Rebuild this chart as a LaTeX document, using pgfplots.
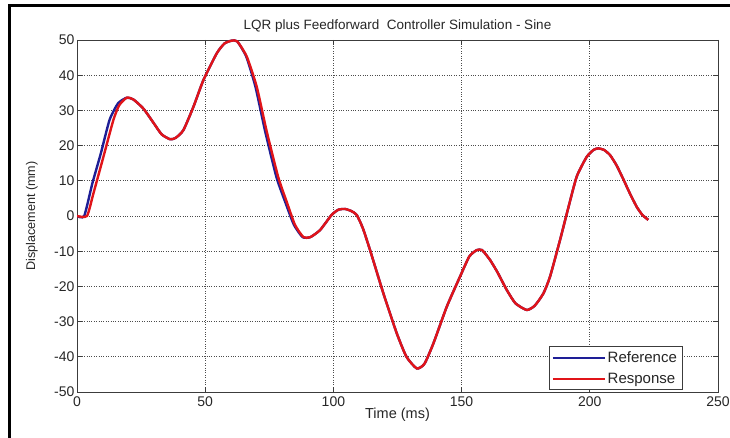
\documentclass[border=0pt]{standalone}
\usepackage{pgfplots}
\pgfplotsset{compat=1.18}
\usepackage{fontspec}
\setmainfont{Liberation Sans}
\definecolor{refblue}{RGB}{30,30,150}
\definecolor{resred}{RGB}{225,20,25}
\definecolor{axgray}{RGB}{60,60,60}
\begin{document}
\begin{tikzpicture}[x=1pt,y=1pt]
\path[use as bounding box] (0,0) rectangle (730,438);
\draw[black,line width=3pt] (9.5,0) -- (9.5,432) -- (730,432);
\begin{axis}[
  at={(77pt,46pt)}, anchor=south west,
  scale only axis, width=641pt, height=352pt,
  xmin=0, xmax=250, ymin=-50, ymax=50,
  xtick={0,50,100,150,200,250},
  ytick={-50,-40,-30,-20,-10,0,10,20,30,40,50},
  grid=major,
  major grid style={black!70, dotted, line width=0.8pt},
  axis line style={axgray, line width=0.9pt},
  tick style={axgray, line width=0.8pt},
  tick align=inside,
  major tick length=5pt,
  /pgf/number format/assume math mode=true,
  ticklabel style={font=\fontsize{14}{16}\selectfont, text=black!85},
  xticklabel style={yshift=-1pt},
  yticklabel style={xshift=1pt},
  title={LQR plus Feedforward\ \ Controller Simulation - Sine},
  title style={font=\fontsize{13.5}{16}\selectfont, text=black!85, yshift=-2pt},
  xlabel={Time (ms)},
  ylabel={Displacement (mm)},
  xlabel style={font=\fontsize{14.5}{16}\selectfont, text=black!85, at={(axis description cs:0.5,-0.066)}, anchor=center},
  ylabel style={font=\fontsize{12.6}{14}\selectfont, text=black!85, at={(axis description cs:-0.0703,0.5)}, anchor=center},
  legend style={at={(0.944,0.006)}, anchor=south east, draw=axgray,
    font=\fontsize{15}{17}\selectfont, text=black!85, inner sep=3pt, row sep=5pt,
    legend cell align=left},
  legend image code/.code={\draw[#1, line width=1.8pt, sharp plot] (0pt,0pt) -- (52pt,0pt);},
]
\addplot[refblue, line width=2.4pt, smooth, tension=0.35] coordinates {
(0,0)(2.8,0)(6.0,9.3)(9.3,17.8)(12.7,27.3)(16.0,32)(19.4,33.6)(22,33.1)(25.9,30.5)(29.8,26.5)(33,23.2)(36.3,21.8)(38.5,22.2)(41.5,24.4)(45.4,31)(49.3,38.6)(54.5,46.2)(57.5,49)(60.3,49.8)(62.5,49.6)(66.0,45.3)(69.6,36.7)(73.4,24)(77.8,11)(81.2,4)(84.6,-2.5)(88.0,-6)(91,-6)(94.8,-4)(99.3,0.3)(102,1.8)(104.5,2)(107,1.4)(109.1,0.3)(111.5,-3.5)(114.3,-9.7)(119.5,-22)(124.7,-33.3)(128.5,-40)(132.5,-43.3)(135.5,-42)(139,-36.2)(144.2,-25.8)(149.4,-17.2)(153,-11.5)(155.9,-9.7)(158,-9.7)(161.1,-12.5)(164,-16)(167.6,-21)(171,-24.8)(175.4,-26.7)(178.5,-25.5)(181.9,-22)(184.5,-17.2)(188.4,-6.8)(191.5,2)(194.9,11.2)(198.8,16.8)(201.5,18.8)(203.3,19.2)(205.5,18.8)(207.9,17.3)(210.5,14.3)(213.1,10.4)(215.7,6.3)(218.3,2.6)(220.5,0.3)(222.8,-1.1)
};
\addlegendentry{Reference}
\addplot[resred, line width=2.4pt, smooth, tension=0.35] coordinates {
(0,0)(3.9,0)(6.4,6.4)(10.3,16.8)(14.2,27.3)(16.5,31.5)(19.4,33.6)(22,33.1)(25.9,30.5)(29.8,26.5)(33,23.2)(36.3,21.8)(38.5,22.2)(41.5,24.4)(45.4,31)(49.3,38.6)(54.5,46.2)(57.5,49)(60.3,49.8)(62.5,49.6)(66.2,45.3)(70.1,36.7)(74,24)(78.5,11)(81.8,4)(85,-2.5)(88.3,-6)(91,-6)(94.8,-4)(99.3,0.3)(102,1.8)(104.5,2)(107,1.4)(109.1,0.3)(111.5,-3.5)(114.3,-9.7)(119.5,-22)(124.7,-33.3)(128.5,-40)(132.5,-43.3)(135.5,-42)(139,-36.2)(144.2,-25.8)(149.4,-17.2)(153,-11.5)(155.9,-9.7)(158,-9.7)(161.1,-12.5)(164,-16)(167.6,-21)(171,-24.8)(175.4,-26.7)(178.5,-25.5)(181.9,-22)(184.5,-17.2)(188.4,-6.8)(191.5,2)(194.9,11.2)(198.8,16.8)(201.5,18.8)(203.3,19.2)(205.5,18.8)(207.9,17.3)(210.5,14.3)(213.1,10.4)(215.7,6.3)(218.3,2.6)(220.5,0.3)(222.8,-1.1)
};
\addlegendentry{Response}
\end{axis}
\end{tikzpicture}
\end{document}
